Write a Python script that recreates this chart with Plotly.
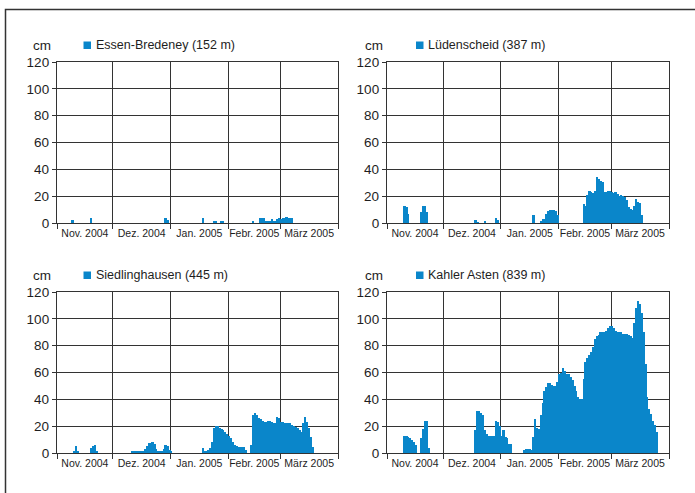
import pandas as pd
import plotly.graph_objects as go

# ---------------- data (daily snow depth, cm) ----------------
start_date = "2004-11-01"
end_date = "2005-03-31"

month_starts = ["2004-11-01", "2004-12-01", "2005-01-01", "2005-02-01", "2005-03-01", "2005-04-01"]
month_mids = ["2004-11-16", "2004-12-16 12:00", "2005-01-16 12:00", "2005-02-15", "2005-03-16 12:00"]
month_labels = ["Nov. 2004", "Dez. 2004", "Jan. 2005", "Febr. 2005", "März 2005"]

station_names = ["Essen-Bredeney (152 m)", "Lüdenscheid (387 m)",
                 "Siedlinghausen (445 m)", "Kahler Asten (839 m)"]

essen = [
    # Nov
    0, 0, 0, 0, 0, 0, 0, 0, 2, 0, 0, 0, 0, 0, 0, 0, 0, 0, 4, 0, 0, 0, 0, 0, 0, 0, 0, 0, 0, 0,
    # Dez
    0, 0, 0, 0, 0, 0, 0, 0, 0, 0, 0, 0, 0, 0, 0, 0, 0, 0, 0, 0, 0, 0, 0, 0, 0, 0, 0, 0, 3.5, 2, 0,
    # Jan
    0, 0, 0, 0, 0, 0, 0, 0, 0, 0, 0, 0, 0, 0, 0, 0, 0, 3.5, 0, 0, 0, 0, 0, 1, 1, 0, 0, 1, 1, 0, 0,
    # Feb
    0, 0, 0, 0, 0, 0, 0, 0, 0, 0, 0, 0, 0, 1, 0, 0, 0, 4, 3.5, 3.5, 1, 1, 1, 3, 1, 1, 3, 4,
    # Mär
    3, 4, 4, 4.5, 4, 4, 3.5, 0, 0, 0, 0, 0, 0, 0, 0, 0, 0, 0, 0, 0, 0, 0, 0, 0, 0, 0, 0, 0, 0, 0, 0,
]

luedenscheid = [
    # Nov
    0, 0, 0, 0, 0, 0, 0, 0, 0, 13, 12, 7, 0, 0, 0, 0, 0, 0, 8, 13, 13, 8, 0, 0, 0, 0, 0, 0, 0, 0,
    # Dez
    0, 0, 0, 0, 0, 0, 0, 0, 0, 0, 0, 0, 0, 0, 0, 0, 0, 2, 0.5, 0, 0, 0, 1, 0, 0, 0, 0, 0, 3.5, 2.5, 0,
    # Jan
    0, 0, 0, 0, 0, 0, 0, 0, 0, 0, 0, 0, 0, 0, 0, 0, 0, 6, 0, 0, 0, 1, 3, 3, 7, 9, 10, 10, 10, 9, 6,
    # Feb
    0, 0, 0, 0, 0, 0, 0, 0, 0, 0, 0, 0, 0, 14, 13, 21, 24, 23, 22, 23.5, 34, 33, 31.5, 30.5, 23, 23, 23.5, 24,
    # Mär
    23, 22.5, 23, 21.5, 20.5, 21, 20, 19.5, 17, 12, 10.5, 10, 13, 18, 16, 15, 6, 0, 0, 0, 0, 0, 0, 0, 0, 0, 0, 0, 0, 0, 0,
]

siedlinghausen = [
    # Nov
    0, 0, 0, 0, 0, 0, 0, 0, 0, 1, 5, 1, 0, 0, 0, 0, 0, 0, 4, 5, 6, 1, 0, 0, 0, 0, 0, 0, 0, 0,
    # Dez
    0, 0, 0, 0, 0, 0, 0, 0, 0, 0, 1, 1, 1, 1, 1, 1, 1, 3, 5, 7.5, 7.5, 8.5, 7, 3, 1.5, 1.5, 1.5, 3, 6, 5, 2,
    # Jan
    1, 0, 0, 0, 0, 0, 0, 0, 0, 0, 0, 0, 0, 0, 0, 0, 0, 3.5, 1, 1, 2, 4, 8, 19, 20, 20, 19, 18, 17, 15.5, 14.5,
    # Feb
    13, 11, 8, 6, 5, 4.5, 4.5, 4.5, 4.5, 2, 0, 0, 6, 28, 30, 28, 26, 25, 24, 23, 23, 23.5, 23.5, 23, 22.5, 22.5, 27, 26,
    # Mär
    23, 23, 22.5, 22.5, 22, 22, 21, 20, 19.5, 18.5, 17, 15.5, 22, 26.5, 23, 19, 12, 4.5, 0, 0, 0, 0, 0, 0, 0, 0, 0, 0, 0, 0, 0,
]

kahler_asten = [
    # Nov
    0, 0, 0, 0, 0, 0, 0, 0, 0, 13, 13, 12, 11, 10, 8, 6, 0, 0, 11, 18, 24, 24, 4, 0, 0, 0, 0, 0, 0, 0,
    # Dez
    0, 0, 0, 0, 0, 0, 0, 0, 0, 0, 0, 0, 0, 0, 0, 0, 0, 17, 31.5, 31, 30, 28.5, 17, 14, 13, 13, 13, 13, 24, 23, 20,
    # Jan
    13, 17, 12, 11, 7, 7, 0, 0, 0, 0, 0, 0, 2, 3, 3, 3, 2, 12, 25, 19, 18, 28, 37, 46, 49, 52, 52, 51, 50, 50, 53,
    # Feb
    59, 60, 63.5, 61, 59, 59, 57, 54.5, 50, 46.5, 41.5, 40, 40, 55, 68, 71, 73, 75, 79, 85, 87, 88, 90, 90, 90, 91, 93, 95,
    # Mär
    95, 93, 91, 90, 90, 90, 89, 89, 89, 88, 87, 86, 97, 108, 113, 111, 104, 90, 66, 42, 33, 29, 24, 21, 16, 0, 0, 0, 0, 0, 0,
]

y_ticks = [0, 20, 40, 60, 80, 100, 120]
unit_label = "cm"

# ---------------- figure ----------------
W, H = 695, 493
BAR = "#0a86ca"
GRID = "#333333"
TXT = "#1e1e1e"
FONT = "Liberation Sans, Arial, sans-serif"

dates = pd.date_range(start_date, end_date, freq="D")
series = [essen, luedenscheid, siedlinghausen, kahler_asten]

def px_x(x):
    return x / W

def px_y(y):
    return 1 - y / H

# panel pixel boxes: (left, right, top, bottom)
panels = [(57, 338, 62, 223), (387, 669, 62, 223),
          (57, 338, 292, 453), (387, 669, 292, 453)]

fig = go.Figure()
annotations = []
shapes = []

for i, (vals, name, (l, r, t, b)) in enumerate(zip(series, station_names, panels)):
    n = "" if i == 0 else str(i + 1)
    fig.add_trace(go.Bar(
        x=dates, y=vals, name=name,
        marker=dict(color=BAR, line=dict(width=0)),
        xperiod=86400000, xperiodalignment="middle",
        xaxis="x" + n, yaxis="y" + n, showlegend=False, hoverinfo="skip",
    ))
    fig.update_layout(**{
        "xaxis" + n: dict(
            domain=[px_x(l), px_x(r)], anchor="y" + n, type="date",
            range=[month_starts[0], month_starts[-1]],
            tickmode="array", tickvals=month_mids, ticktext=month_labels,
            ticks="", showgrid=False, ticklabelstandoff=0, tickangle=0,
            tickfont=dict(family=FONT, size=10.5, color=TXT),
            showline=True, mirror=True, linecolor=GRID, linewidth=1.3,
            minor=dict(tickmode="array", tickvals=month_starts, ticks="outside",
                       ticklen=5, tickwidth=1.3, tickcolor=GRID,
                       showgrid=True, gridcolor=GRID, gridwidth=1.3),
            automargin=False, fixedrange=True,
        ),
        "yaxis" + n: dict(
            domain=[px_y(b), px_y(t)], anchor="x" + n,
            range=[0, 120], tickmode="array", tickvals=y_ticks,
            ticks="outside", ticklen=4, tickwidth=1.3, tickcolor=GRID,
            showgrid=True, gridcolor=GRID, gridwidth=1.3,
            zeroline=False,
            showline=True, mirror=True, linecolor=GRID, linewidth=1.3,
            tickfont=dict(family=FONT, size=13.5, color=TXT),
            automargin=False, fixedrange=True,
        ),
    })
    # "cm" unit label
    cx = 42 if l < 300 else 374
    cy = 45 if t < 200 else 275
    annotations.append(dict(text=unit_label, x=px_x(cx), y=px_y(cy), xref="paper", yref="paper",
                            xanchor="center", yanchor="middle", showarrow=False,
                            font=dict(family=FONT, size=13.5, color=TXT)))
    # legend square + text
    sx = 83.5 if l < 300 else 416
    shapes.append(dict(type="rect", xref="paper", yref="paper",
                       x0=px_x(sx), x1=px_x(sx + 7.5), y0=px_y(cy + 4), y1=px_y(cy - 3.5),
                       fillcolor=BAR, line=dict(width=0)))
    annotations.append(dict(text=name, x=px_x(sx + 10), y=px_y(cy), xref="paper", yref="paper",
                            xanchor="left", yanchor="middle", showarrow=False,
                            font=dict(family=FONT, size=12.5, color=TXT)))

# outer frame (cut off at right and bottom)
shapes.append(dict(type="rect", xref="paper", yref="paper",
                   x0=px_x(5.5), x1=1.1, y0=-0.1, y1=px_y(9.5),
                   line=dict(color="#333", width=1.5), fillcolor="rgba(0,0,0,0)"))

fig.update_layout(
    width=W, height=H, autosize=False,
    margin=dict(l=0, r=0, t=0, b=0),
    paper_bgcolor="white", plot_bgcolor="white",
    bargap=0, barmode="overlay",
    annotations=annotations, shapes=shapes,
    font=dict(family=FONT, color=TXT),
)

fig.write_html("out.html", config={"displayModeBar": False},
               post_script="document.body.style.margin='0';document.body.style.overflow='hidden';")
